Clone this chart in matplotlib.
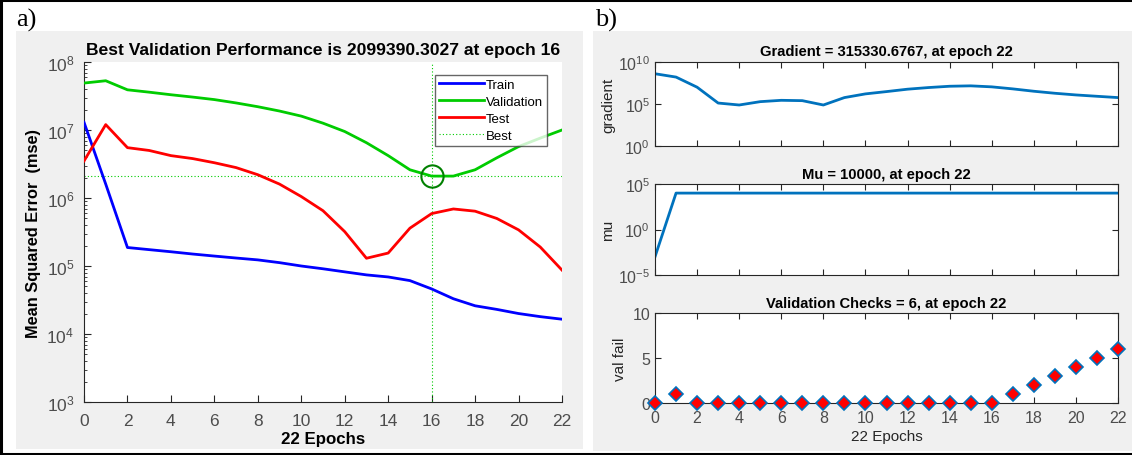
import matplotlib
matplotlib.use("Agg")
import matplotlib.pyplot as plt
from matplotlib.patches import Rectangle
from matplotlib.lines import Line2D
import matplotlib.ticker as mticker
import numpy as np

plt.rcParams['font.family'] = ['Liberation Sans', 'DejaVu Sans']
plt.rcParams['mathtext.fontset'] = 'custom'
plt.rcParams['mathtext.rm'] = 'Liberation Sans'
plt.rcParams['mathtext.it'] = 'Liberation Sans:italic'
plt.rcParams['mathtext.bf'] = 'Liberation Sans:bold'

# ---------------- data ----------------
epochs = list(range(23))
train_mse = [1.3e7, 1.6e6, 1.87e5, 1.74e5, 1.62e5, 1.5e5, 1.4e5, 1.31e5, 1.23e5, 1.12e5,
             1.0e5, 9.1e4, 8.2e4, 7.4e4, 6.9e4, 6.1e4, 4.6e4, 3.3e4, 2.6e4, 2.3e4,
             2.0e4, 1.8e4, 1.65e4]
val_mse = [4.9e7, 5.3e7, 3.9e7, 3.6e7, 3.3e7, 3.05e7, 2.8e7, 2.5e7, 2.2e7, 1.9e7,
           1.6e7, 1.26e7, 9.5e6, 6.5e6, 4.2e6, 2.6e6, 2099390.3027, 2.1e6, 2.6e6, 3.9e6,
           5.7e6, 7.6e6, 1.0e7]
test_mse = [3.5e6, 1.2e7, 5.5e6, 5.0e6, 4.2e6, 3.8e6, 3.3e6, 2.8e6, 2.2e6, 1.6e6,
            1.05e6, 6.5e5, 3.2e5, 1.3e5, 1.55e5, 3.6e5, 5.9e5, 6.9e5, 6.4e5, 5.0e5,
            3.4e5, 1.9e5, 8.7e4]
best_epoch = 16
best_perf = 2099390.3027

gradient = [4e8, 1.6e8, 1.0e7, 1.3e5, 7.6e4, 1.9e5, 2.75e5, 2.5e5, 7.6e4, 5.8e5,
            1.6e6, 3.0e6, 5.8e6, 9.1e6, 1.3e7, 1.45e7, 1.1e7, 6.3e6, 3.3e6, 1.9e6,
            1.2e6, 8.3e5, 5.8e5]
mu = [1e-3] + [1e4] * 22
val_fail = [0, 1, 0, 0, 0, 0, 0, 0, 0, 0, 0, 0, 0, 0, 0, 0, 0, 1, 2, 3, 4, 5, 6]
xticks = list(range(0, 23, 2))

# ---------------- figure ----------------
W, H = 1132, 456
fig = plt.figure(figsize=(W / 100, H / 100), dpi=100)
fig.patch.set_facecolor('white')

def rect(x0, y0, x1, y1):
    return [x0 / W, 1 - y1 / H, (x1 - x0) / W, (y1 - y0) / H]

def add_bg(x0, y0, x1, y1, color='#f0f0f0'):
    fig.patches.append(Rectangle((x0 / W, 1 - y1 / H), (x1 - x0) / W, (y1 - y0) / H,
                                 transform=fig.transFigure, facecolor=color,
                                 edgecolor='none', zorder=-5))

def fig_line(xs, ys, lw=2.2, color='black'):
    fig.add_artist(Line2D([x / W for x in xs], [1 - y / H for y in ys],
                          transform=fig.transFigure, color=color, lw=lw, zorder=5))

add_bg(16, 32, 583, 450)
add_bg(593, 32, 1132, 452)
fig_line([0, W], [1, 1])
fig_line([1.2, 1.2], [0, H])
fig_line([0, W], [454.5, 454.5])

fig.text(16 / W, 1 - 27 / H, 'a)', family=['Liberation Serif'], fontsize=19, ha='left', va='baseline')
fig.text(595 / W, 1 - 27 / H, 'b)', family=['Liberation Serif'], fontsize=19, ha='left', va='baseline')

tick_gray = '#4d4d4d'

# ---------------- panel a ----------------
ax = fig.add_axes(rect(84, 63, 562, 403))
ax.set_facecolor('white')
ax.plot(epochs, train_mse, color=(0, 0, 1), lw=2.0, label='Train', zorder=3)
ax.plot(epochs, val_mse, color=(0, 0.8, 0), lw=2.0, label='Validation', zorder=3)
ax.plot(epochs, test_mse, color=(1, 0, 0), lw=2.0, label='Test', zorder=3)
ax.axhline(best_perf, color=(0, 0.8, 0), lw=0.8, ls=(0, (1, 2)), label='Best', zorder=2)
ax.axvline(best_epoch, color=(0, 0.8, 0), lw=0.8, ls=(0, (1, 2)), zorder=2)
ax.plot([best_epoch], [best_perf], 'o', ms=16, mfc='none', mec=(0, 0.5, 0), mew=1.5, zorder=4)
ax.set_yscale('log')
ax.set_ylim(1e3, 1e8)
ax.set_xlim(0, 22)
ax.set_xticks(xticks)
ax.yaxis.set_major_locator(mticker.LogLocator(base=10, numticks=10))
ax.yaxis.set_minor_locator(mticker.LogLocator(base=10, subs=np.arange(2, 10), numticks=20))
for s in ['top', 'right']:
    ax.spines[s].set_visible(False)
for s in ['left', 'bottom']:
    ax.spines[s].set_color('#262626')
    ax.spines[s].set_linewidth(0.8)
ax.tick_params(axis='both', which='both', direction='in', colors='#262626', labelcolor=tick_gray,
               labelsize=12.5)
ax.tick_params(axis='both', which='major', length=5)
ax.tick_params(axis='x', which='major', pad=8)
ax.tick_params(axis='y', which='major', pad=7)
ax.tick_params(axis='y', which='minor', length=2.5)
ax.set_title('Best Validation Performance is 2099390.3027 at epoch 16', fontsize=12.6,
             fontweight='bold', pad=6)
ax.set_xlabel('22 Epochs', fontsize=12.2, fontweight='bold', labelpad=2)
ax.set_ylabel('Mean Squared Error  (mse)', fontsize=11.8, fontweight='bold', labelpad=4)
leg = ax.legend(loc='upper right', bbox_to_anchor=(0.969, 0.962), handlelength=3.4,
                handletextpad=0.15, fontsize=9.5, frameon=True, fancybox=False,
                borderpad=0.3, labelspacing=0.35, borderaxespad=0)
leg.get_frame().set_edgecolor('#404040')
leg.get_frame().set_linewidth(1.0)

# ---------------- panel b ----------------
def style_b(a):
    a.set_facecolor('white')
    for s in a.spines.values():
        s.set_color('#262626')
        s.set_linewidth(0.8)
    a.tick_params(axis='both', which='both', direction='in', top=True, right=True,
                  colors='#262626', labelcolor=tick_gray, labelsize=11.5, length=4)
    a.tick_params(axis='x', pad=5)
    a.minorticks_off()
    a.set_xlim(0, 22)
    a.set_xticks(xticks)

blue = '#0072BD'

ax1 = fig.add_axes(rect(655, 63, 1118, 147))
ax1.plot(epochs, gradient, color=blue, lw=2.0)
ax1.set_yscale('log')
ax1.set_ylim(1e0, 1e10)
ax1.set_yticks([1e0, 1e5, 1e10])
style_b(ax1)
ax1.set_xticklabels([])
ax1.set_title('Gradient = 315330.6767, at epoch 22', fontsize=10.6, fontweight='bold', pad=5)
ax1.set_ylabel('gradient', fontsize=11, color='#262626', labelpad=2)

ax2 = fig.add_axes(rect(655, 185, 1118, 276))
ax2.plot(epochs, mu, color=blue, lw=2.0)
ax2.set_yscale('log')
ax2.set_ylim(1e-5, 1e5)
ax2.set_yticks([1e-5, 1e0, 1e5])
style_b(ax2)
ax2.set_xticklabels([])
ax2.set_title('Mu = 10000, at epoch 22', fontsize=10.6, fontweight='bold', pad=4)
ax2.set_ylabel('mu', fontsize=11, color='#262626', labelpad=2)

ax3 = fig.add_axes(rect(655, 314, 1118, 404))
ax3.plot(epochs, val_fail, 'D', ms=7, mfc='red', mec=blue, mew=1.2, clip_on=False, zorder=3)
ax3.set_ylim(0, 10)
ax3.set_yticks([0, 5, 10])
style_b(ax3)
ax3.set_title('Validation Checks = 6, at epoch 22', fontsize=10.6, fontweight='bold', pad=4)
ax3.set_ylabel('val fail', fontsize=11, color='#262626', labelpad=4)
ax3.set_xlabel('22 Epochs', fontsize=11, color='#262626', labelpad=3)

fig.savefig('out.png', dpi=100, facecolor='white')
